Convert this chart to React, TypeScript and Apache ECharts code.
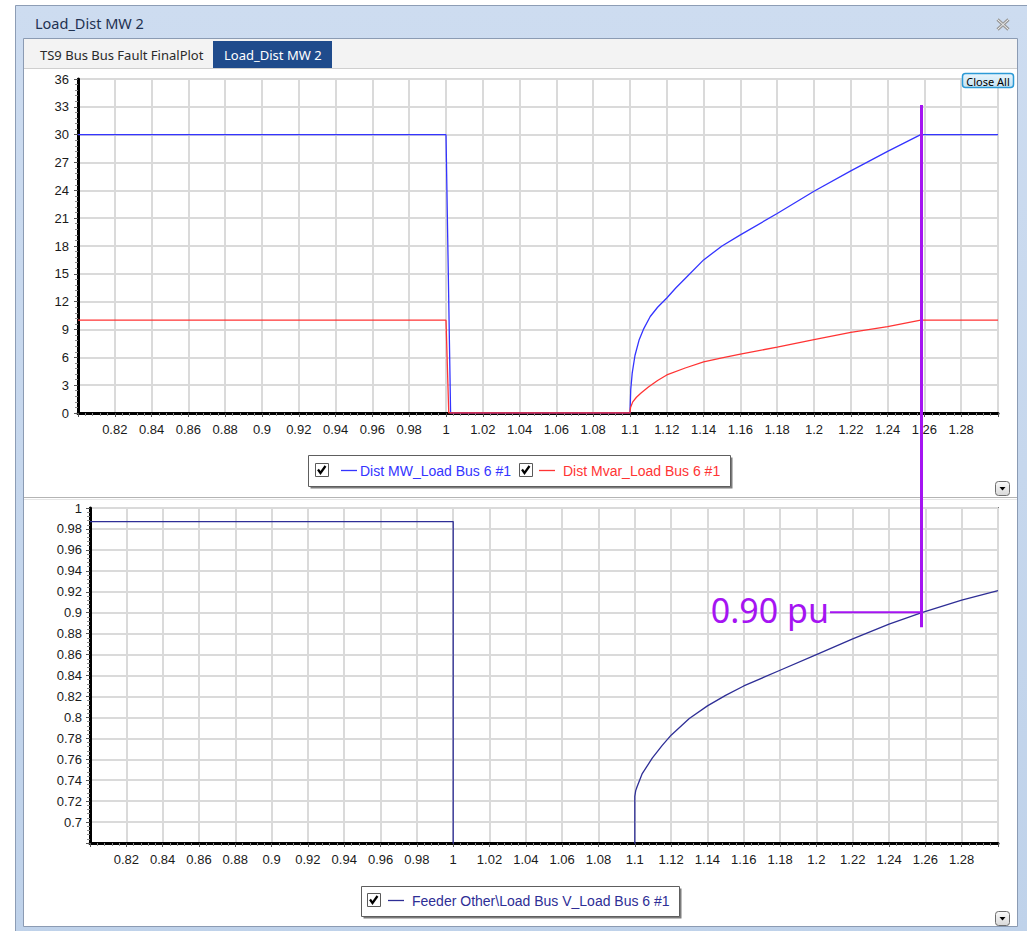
import React, { useEffect, useRef } from "react";
import * as echarts from "echarts";

const W = 1027;
const H = 931;

// ---- axes ----
const xMin = 0.8;
const xMax = 1.3;
const xStep = 0.02;
const mwMin = 0;
const mwMax = 36;
const mwStep = 3;
const vMin = 0.68;
const vMax = 1.0;
const vStep = 0.02;

// ---- texts ----
const windowTitle = "Load_Dist MW 2";
const tabTitles = ["TS9 Bus Bus Fault FinalPlot", "Load_Dist MW 2"];
const seriesNames = [
  "Dist MW_Load Bus 6 #1",
  "Dist Mvar_Load Bus 6 #1",
  "Feeder Other\\Load Bus V_Load Bus 6 #1",
];
const seriesColors = ["#3434ff", "#ff3434", "#2e2e96"];

// ---- data (time in s) ----
const mwTime = [0.8, 1.0, 1.0025, 1.1, 1.1004, 1.1012, 1.1027, 1.105, 1.1075, 1.111, 1.115, 1.12, 1.125, 1.13, 1.14, 1.15, 1.16, 1.18, 1.2, 1.22, 1.24, 1.258, 1.3];
const mwValues = [30, 30, 0, 0, 2.5, 4.3, 6.2, 7.9, 9.1, 10.4, 11.4, 12.4, 13.5, 14.5, 16.5, 18.0, 19.2, 21.5, 23.9, 26.1, 28.2, 30, 30];

const mvarTime = [0.8, 1.0, 1.0015, 1.1, 1.1003, 1.1015, 1.1035, 1.106, 1.11, 1.115, 1.12, 1.13, 1.14, 1.15, 1.16, 1.18, 1.2, 1.22, 1.24, 1.258, 1.3];
const mvarValues = [10, 10, 0, 0, 0.6, 1.2, 1.7, 2.15, 2.8, 3.5, 4.1, 4.85, 5.5, 5.95, 6.35, 7.1, 7.9, 8.7, 9.3, 10, 10];

const vTime = [0.8, 1.0, 1.0, 1.1, 1.1, 1.1005, 1.1013, 1.104, 1.1096, 1.115, 1.12, 1.13, 1.14, 1.15, 1.16, 1.18, 1.2, 1.22, 1.24, 1.258, 1.28, 1.3];
const vValues = [0.987, 0.987, 0.1, 0.1, 0.7245, 0.73, 0.734, 0.746, 0.761, 0.773, 0.783, 0.799, 0.811, 0.821, 0.83, 0.845, 0.86, 0.875, 0.889, 0.9, 0.912, 0.921];

// ---- cursor annotation ----
const cursorTime = 1.258;
const cursorTopMW = 33.2;
const cursorBottomV = 0.886;
const cursorVoltage = 0.9;
const cursorLabel = "0.90 pu";
const cursorLabelEndTime = 1.2075;

const zip = (a: number[], b: number[]) => a.map((t, i) => [t, b[i]]);
const fmt = (v: number) => String(parseFloat(v.toFixed(2)));

const LABEL_FONT = "Liberation Sans, Arial, sans-serif";
const UI_FONT = "Noto Sans, Open Sans, sans-serif";

function makeXAxis(gridIndex: number) {
  return {
    type: "value",
    gridIndex,
    min: xMin,
    max: xMax,
    interval: xStep,
    axisLine: { show: true, onZero: false, lineStyle: { color: "#000", width: 3 } },
    axisTick: { show: true, length: 4, lineStyle: { color: "#555", width: 1 } },
    minorTick: { show: true, splitNumber: 5, length: 3, lineStyle: { color: "#8a8a8a", width: 1 } },
    splitLine: { show: true, lineStyle: { color: "#dadada", width: 2 } },
    axisLabel: {
      showMinLabel: false,
      showMaxLabel: false,
      margin: 10,
      fontSize: 13,
      fontFamily: LABEL_FONT,
      color: "#1a1a1a",
      formatter: fmt,
    },
  };
}

function makeYAxis(gridIndex: number, min: number, max: number, step: number, showMin: boolean, margin: number) {
  return {
    type: "value",
    gridIndex,
    min,
    max,
    interval: step,
    axisLine: { show: true, onZero: false, lineStyle: { color: "#000", width: 3 } },
    axisTick: { show: true, length: 4, lineStyle: { color: "#555", width: 1 } },
    minorTick: { show: true, splitNumber: 5, length: 3, lineStyle: { color: "#8a8a8a", width: 1 } },
    splitLine: { show: true, lineStyle: { color: "#dadada", width: 2 } },
    axisLabel: {
      showMinLabel: showMin,
      showMaxLabel: true,
      margin,
      fontSize: 13,
      fontFamily: LABEL_FONT,
      color: "#1a1a1a",
      formatter: fmt,
    },
  };
}

function checkbox(x: number, y: number) {
  return [
    { type: "rect", z: 10, shape: { x: x + 0.5, y: y + 0.5, width: 13, height: 13 }, style: { fill: "#fff", stroke: "#5a5a5a", lineWidth: 1 } },
    {
      type: "polyline",
      z: 11,
      shape: { points: [[x + 3, y + 6.5], [x + 5.5, y + 10], [x + 10.5, y + 3]] },
      style: { stroke: "#000", lineWidth: 2.2, fill: null },
    },
  ];
}

function legendEntry(cbX: number, cy: number, lineX: number, textX: number, idx: number) {
  return [
    ...checkbox(cbX, cy - 7),
    { type: "line", z: 10, shape: { x1: lineX, y1: cy + 0.5, x2: lineX + 16, y2: cy + 0.5 }, style: { stroke: seriesColors[idx], lineWidth: 1.3 } },
    {
      type: "text",
      z: 10,
      x: textX,
      y: cy + 1,
      style: { text: seriesNames[idx], fill: seriesColors[idx], font: `14px ${LABEL_FONT}`, textVerticalAlign: "middle", textAlign: "left" },
    },
  ];
}

function legendBox(x: number, y: number, w: number, h: number) {
  return [
    { type: "rect", z: 9, shape: { x: x + 2.5, y: y + 2.5, width: w, height: h }, style: { fill: "#7c7c7c" } },
    { type: "rect", z: 9, shape: { x: x + 0.5, y: y + 0.5, width: w, height: h }, style: { fill: "#fff", stroke: "#5e5e5e", lineWidth: 1 } },
  ];
}

function dropButton(x: number, y: number) {
  return [
    {
      type: "rect",
      z: 10,
      shape: { x: x + 0.5, y: y + 0.5, width: 14, height: 14, r: 3 },
      style: {
        fill: new echarts.graphic.LinearGradient(0, 0, 0, 1, [
          { offset: 0, color: "#fafafa" },
          { offset: 1, color: "#d8d8d8" },
        ]),
        stroke: "#6c6c6c",
        lineWidth: 1,
      },
    },
    { type: "polygon", z: 11, shape: { points: [[x + 4.5, y + 6], [x + 10.5, y + 6], [x + 7.5, y + 9.5]] }, style: { fill: "#000" } },
  ];
}

function chrome() {
  const bz = -10;
  return [
    { type: "rect", z: bz, shape: { x: 0, y: 0, width: W, height: H }, style: { fill: "#fff" } },
    {
      type: "rect",
      z: bz,
      shape: { x: 15.5, y: 5.5, width: W, height: H },
      style: {
        fill: new echarts.graphic.LinearGradient(0, 0, 0, 1, [
          { offset: 0, color: "#cddcf0" },
          { offset: 1, color: "#bfd2ea" },
        ]),
        stroke: "#8d9db5",
        lineWidth: 1,
      },
    },
    { type: "text", z: bz, x: 35, y: 23, style: { text: windowTitle, fill: "#1e3150", font: `14.5px ${UI_FONT}`, textVerticalAlign: "middle" } },
    { type: "line", z: bz, shape: { x1: 997.5, y1: 19.5, x2: 1008.5, y2: 29.5 }, style: { stroke: "#9a9a9a", lineWidth: 3.2 } },
    { type: "line", z: bz, shape: { x1: 1008.5, y1: 19.5, x2: 997.5, y2: 29.5 }, style: { stroke: "#9a9a9a", lineWidth: 3.2 } },
    { type: "line", z: bz, shape: { x1: 997.5, y1: 19.5, x2: 1008.5, y2: 29.5 }, style: { stroke: "#f4f4f4", lineWidth: 1 } },
    { type: "line", z: bz, shape: { x1: 1008.5, y1: 19.5, x2: 997.5, y2: 29.5 }, style: { stroke: "#f4f4f4", lineWidth: 1 } },
    // content panel
    { type: "rect", z: bz, shape: { x: 23.5, y: 38.5, width: 994, height: 888 }, style: { fill: "#fff", stroke: "#8b9bb3", lineWidth: 1 } },
    { type: "rect", z: bz, shape: { x: 24, y: 39, width: 993, height: 29 }, style: { fill: "#f3f3f3" } },
    { type: "line", z: bz, shape: { x1: 24, y1: 68.5, x2: 1017, y2: 68.5 }, style: { stroke: "#cfcfcf", lineWidth: 1 } },
    { type: "text", z: bz, x: 40, y: 55, style: { text: tabTitles[0], fill: "#2a2a2a", font: `13px ${UI_FONT}`, textVerticalAlign: "middle" } },
    { type: "rect", z: bz, shape: { x: 213, y: 41, width: 119, height: 27 }, style: { fill: "#1f4b8c" } },
    { type: "text", z: bz, x: 224, y: 55, style: { text: tabTitles[1], fill: "#fff", font: `13px ${UI_FONT}`, textVerticalAlign: "middle" } },
    // panel splitter
    { type: "line", z: bz, shape: { x1: 24, y1: 497.5, x2: 1017, y2: 497.5 }, style: { stroke: "#b4b4b4", lineWidth: 1 } },
    { type: "line", z: bz, shape: { x1: 24, y1: 499.5, x2: 1017, y2: 499.5 }, style: { stroke: "#e6e6e6", lineWidth: 1 } },
    // Close All button
    {
      type: "rect",
      z: 10,
      shape: { x: 962.5, y: 73.5, width: 51, height: 14, r: 3 },
      style: {
        fill: new echarts.graphic.LinearGradient(0, 0, 0, 1, [
          { offset: 0, color: "#e9f5fc" },
          { offset: 1, color: "#c4e2f4" },
        ]),
        stroke: "#2c9ad6",
        lineWidth: 1.5,
      },
    },
    { type: "text", z: 11, x: 988, y: 81, style: { text: "Close All", fill: "#000", font: `11px ${UI_FONT}`, textAlign: "center", textVerticalAlign: "middle" } },
    ...dropButton(995, 481),
    ...dropButton(995, 911),
  ];
}

function legends() {
  return [
    ...legendBox(308, 455, 422, 31),
    ...legendEntry(315, 470, 341, 360, 0),
    ...legendEntry(519, 470, 539, 563, 1),
    ...legendBox(361, 886, 318, 30),
    ...legendEntry(367, 900, 388, 412, 2),
  ];
}

const baseOption = {
  animation: false,
  grid: [
    { left: 78, top: 79, width: 920, height: 334, show: true, backgroundColor: "#fff", borderColor: "#7a7a7a", borderWidth: 2, outerBoundsMode: "none" },
    { left: 90, top: 508, width: 908, height: 335, show: true, backgroundColor: "#fff", borderColor: "#7a7a7a", borderWidth: 2, outerBoundsMode: "none" },
  ],
  xAxis: [makeXAxis(0), makeXAxis(1)],
  yAxis: [makeYAxis(0, mwMin, mwMax, mwStep, true, 9), makeYAxis(1, vMin, vMax, vStep, false, 8)],
  series: [
    {
      name: seriesNames[0],
      type: "line",
      xAxisIndex: 0,
      yAxisIndex: 0,
      data: zip(mwTime, mwValues),
      showSymbol: false,
      symbol: "none",
      clip: true,
      lineStyle: { color: seriesColors[0], width: 1.3 },
      itemStyle: { color: seriesColors[0] },
      z: 3,
    },
    {
      name: seriesNames[1],
      type: "line",
      xAxisIndex: 0,
      yAxisIndex: 0,
      data: zip(mvarTime, mvarValues),
      showSymbol: false,
      symbol: "none",
      clip: true,
      lineStyle: { color: seriesColors[1], width: 1.3 },
      itemStyle: { color: seriesColors[1] },
      z: 4,
    },
    {
      name: seriesNames[2],
      type: "line",
      xAxisIndex: 1,
      yAxisIndex: 1,
      data: zip(vTime, vValues),
      showSymbol: false,
      symbol: "none",
      clip: true,
      lineStyle: { color: seriesColors[2], width: 1.3 },
      itemStyle: { color: seriesColors[2] },
      z: 3,
    },
  ],
};

export default function App() {
  const ref = useRef<HTMLDivElement>(null);
  useEffect(() => {
    if (!ref.current) return;
    const chart = echarts.init(ref.current, null, { renderer: "svg", width: W, height: H });
    chart.setOption(baseOption as any);

    const top = chart.convertToPixel({ gridIndex: 0 } as any, [cursorTime, cursorTopMW]) as number[];
    const bot = chart.convertToPixel({ gridIndex: 1 } as any, [cursorTime, cursorBottomV]) as number[];
    const lvl = chart.convertToPixel({ gridIndex: 1 } as any, [cursorLabelEndTime, cursorVoltage]) as number[];
    const cx = Math.round(top[0]) + 0.5;
    const purple = "#a514f2";

    const overlay = [
      { type: "line", z: 50, shape: { x1: cx, y1: top[1], x2: cx, y2: bot[1] }, style: { stroke: purple, lineWidth: 3 } },
      { type: "line", z: 50, shape: { x1: lvl[0], y1: lvl[1] - 0.5, x2: cx, y2: lvl[1] - 0.5 }, style: { stroke: purple, lineWidth: 2 } },
      {
        type: "text",
        z: 50,
        x: lvl[0] - 1,
        y: lvl[1] - 3,
        style: { text: cursorLabel, fill: purple, font: `34px ${UI_FONT}`, textAlign: "right", textVerticalAlign: "middle" },
      },
    ];

    chart.setOption({ graphic: [...chrome(), ...legends(), ...overlay] } as any);
    return () => chart.dispose();
  }, []);
  return <div ref={ref} style={{ position: "absolute", left: 0, top: 0, width: W, height: H }} />;
}
